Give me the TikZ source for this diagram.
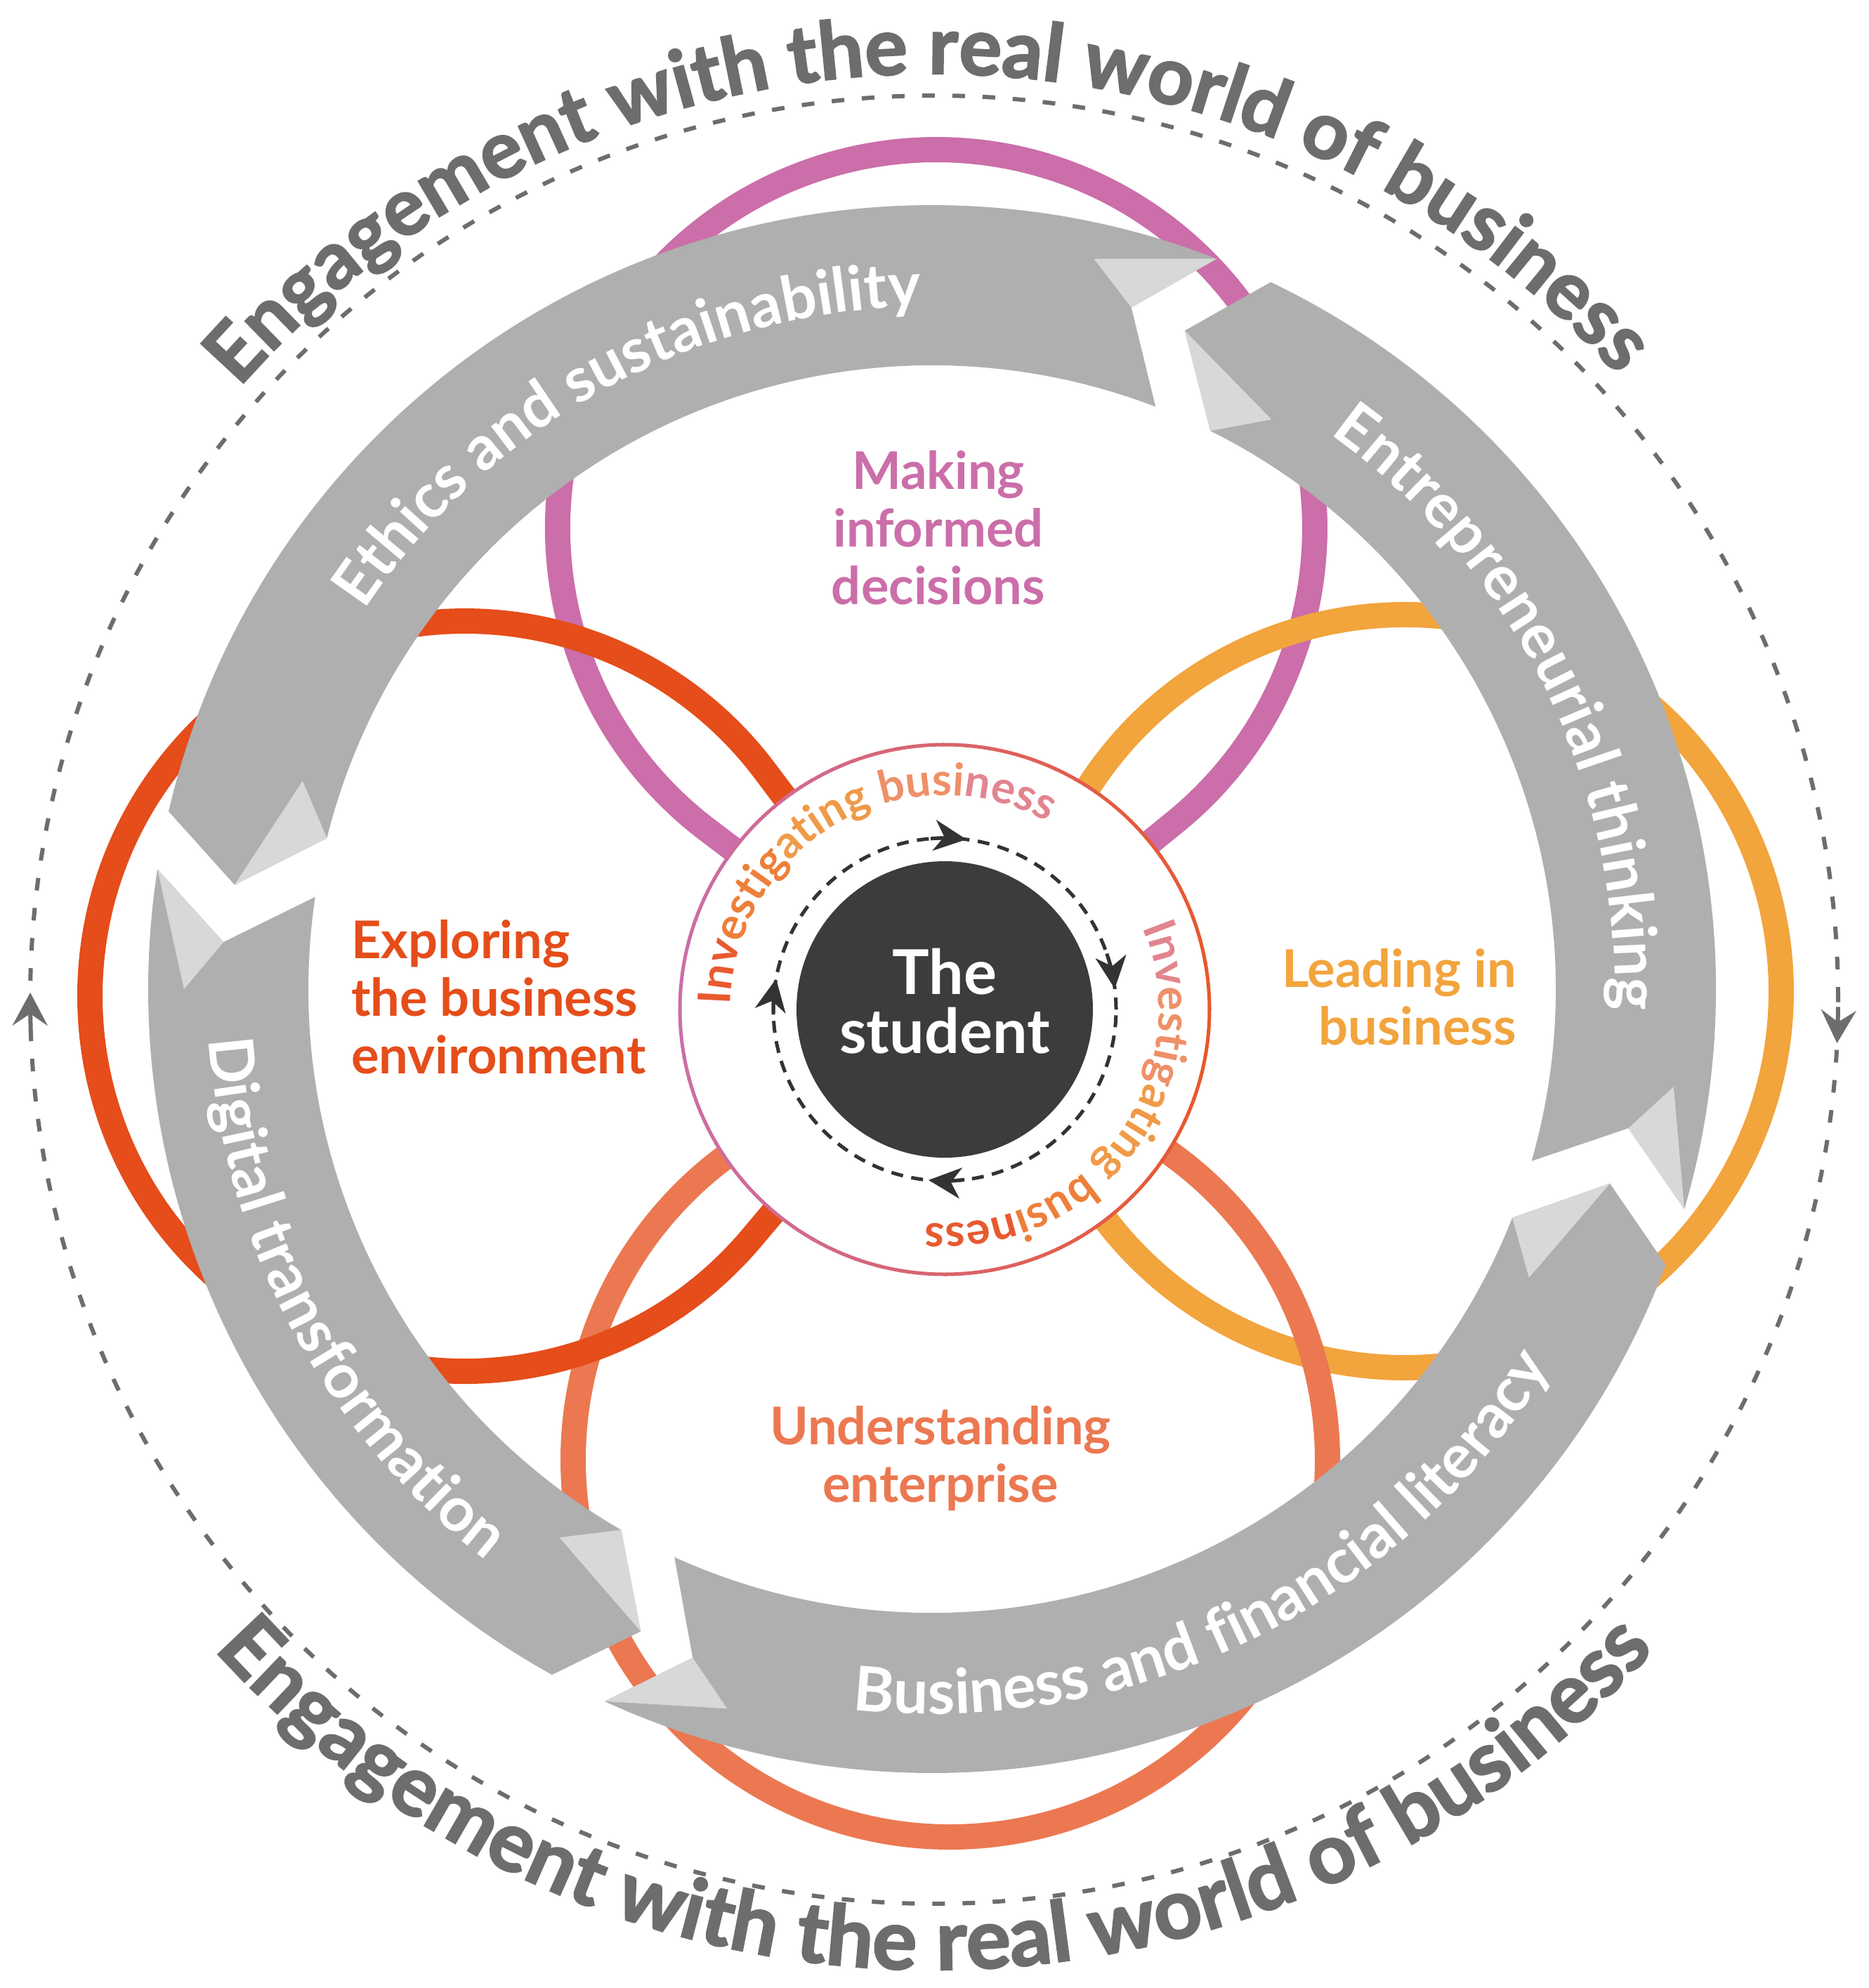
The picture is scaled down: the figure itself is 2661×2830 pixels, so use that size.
\documentclass[tikz,border=0pt]{standalone}
\usepackage{fontspec}
\setmainfont{Lato}
\newfontfamily\heavyfam{Lato}[BoldFeatures={FakeBold=2}]
\usetikzlibrary{decorations.text,arrows.meta}

\definecolor{ribbongray}{HTML}{AFAFAF}
\definecolor{facetgray}{HTML}{D8D8D8}
\definecolor{outergray}{HTML}{6D6D6D}
\definecolor{studentdark}{HTML}{3C3C3C}
\definecolor{innerdark}{HTML}{333333}
\definecolor{loopPink}{HTML}{CB6EA9}
\definecolor{loopRed}{HTML}{E54D1A}
\definecolor{loopOrange}{HTML}{F2A43D}
\definecolor{loopSalmon}{HTML}{EB7851}
\definecolor{ringRed}{HTML}{E8582C}
\definecolor{invA}{HTML}{E85A30}
\definecolor{invB}{HTML}{EE7F3A}
\definecolor{invC}{HTML}{F09A48}
\definecolor{invD}{HTML}{EE9068}
\definecolor{invE}{HTML}{E2858F}

\newcommand\outerfont{\heavyfam\fontsize{114}{114}\selectfont\bfseries}
\newcommand\outerfontlow{\heavyfam\fontsize{119}{119}\selectfont\bfseries}
\newcommand\ribbonfont{\fontsize{88}{88}\selectfont\bfseries\color{white}}
\newcommand\invfmt[1]{\fontsize{64}{64}\selectfont\bfseries\color{#1}}

% one curved ribbon arrow; #1 = angle of its tail joint, #2 = angle of its head joint
\newcommand\grayribbon[2]{%
  \begin{scope}[shift={(O)}]
    \fill[ribbongray] ({#1-4.3}:1116) arc[start angle={#1-4.3}, end angle={#2}, radius=1116]
      -- ({#2+5}:1011) -- ({#2+0.3}:888)
      arc[start angle={#2+0.3}, end angle={#1-5.2}, radius=888]
      -- ({#1+0.3}:1004) -- cycle;
    \fill[facetgray] ({#2}:1116) -- ({#2+5}:1011) -- ({#2+8.8}:1065) -- cycle;
    \fill[facetgray] ({#1+0.3}:1004) -- ({#1-9.5}:944) -- ({#1-5.2}:888) -- cycle;
  \end{scope}}

\begin{document}
\begin{tikzpicture}[x=1pt,y=1pt,
  loopline/.style={line width=36pt, line join=round},
  labeltext/.style={font=\fontsize{74}{82}\selectfont\bfseries, inner sep=0pt},
  outerdash/.style={outergray, line width=6pt},
  innerdash/.style={innerdark, line width=5pt},
  outertip/.style={-{Stealth[length=47pt,width=50pt,inset=17pt]}},
  innertip/.style={-{Stealth[length=46pt,width=44pt,inset=14pt]}}]
\useasboundingbox (0,0) rectangle (2661,-2830);
\fill[white] (0,0) rectangle (2661,-2830);

\coordinate (O) at (1327,-1408);   % centre of the ribbon ring
\coordinate (V) at (1345,-1437);   % centre of the student disc
\coordinate (D) at (1330,-1423);   % centre of the outer dashed cycle

% outer dashed cycle with its two arrow heads
\draw[outerdash, dash pattern=on 18pt off 25pt] (D) circle[radius=1287];
\draw[outerdash, outertip] (D) ++(181.85:1287) arc[start angle=181.85, end angle=179.55, radius=1287];
\draw[outerdash, outertip] (D) ++(-0.46:1287) arc[start angle=-0.46, end angle=-2.76, radius=1287];

% outer captions
\path[decorate, decoration={text along path, text align=center,
  text={|\outerfont\color{outergray}|Engagement with the real world of business}}]
  (D) ++(175.5:1318) arc[start angle=175.5, end angle=5.5, radius=1318];
\path[decorate, decoration={text along path, text align=center,
  text={|\outerfontlow\color{outergray}|Engagement with the real world of business}}]
  (D) ++(185:1381) arc[start angle=185, end angle=355, radius=1381];

% four teardrop loops meeting at the student
\draw[loopline, loopPink] (V) -- ++(142.89:422.9) arc[start angle=232.89, end angle=-50.89, radius=539] -- cycle;
\draw[loopline, loopOrange] (V) -- ++(57.13:377.3) arc[start angle=147.13, end angle=-142.59, radius=536] -- cycle;
\draw[loopline, loopSalmon] (V) -- ++(-32.39:350.1) arc[start angle=57.61, end angle=-236.19, radius=537] -- cycle;
\draw[loopline, loopRed] (V) -- ++(229.81:426.3) arc[start angle=319.81, end angle=36.99, radius=534] -- cycle;

% ribbon arrows running clockwise
\grayribbon{171.2}{68.7}
\grayribbon{68.7}{-16.3}
\grayribbon{-16.3}{-114.7}
\grayribbon{245.3}{171.2}

% ribbon captions
\path[decorate, decoration={text along path, text align=center,
  text={|\ribbonfont|Ethics and sustainability}}]
  (O) ++(188.6:972) arc[start angle=188.6, end angle=48.6, radius=972];
\path[decorate, decoration={text along path, text align=center,
  text={|\ribbonfont|Entrepreneurial thinking}}]
  (O) ++(96.3:972) arc[start angle=96.3, end angle=-43.7, radius=972];
\path[decorate, decoration={text along path, text align=center,
  text={|\ribbonfont|Business and financial literacy}}]
  (O) ++(-133.8:1032) arc[start angle=-133.8, end angle=6.2, radius=1032];
\path[decorate, decoration={text along path, text align=center,
  text={|\ribbonfont|Digital transformation}}]
  (O) ++(138:1032) arc[start angle=138, end angle=278, radius=1032];

% central disc with its shaded rim
\fill[white] (V) circle[radius=377];
\foreach \a in {0,5,...,355} {
  \pgfmathsetmacro\w{50*(1-cos(\a+2.5))}
  \draw[line width=5pt, color=loopPink!\w!ringRed] (V) ++(\a:377) arc[start angle=\a, end angle=\a+5.5, radius=377];
}

% inner dashed cycle
\draw[innerdash, dash pattern=on 17pt off 12pt] (V) circle[radius=244];
\draw[innerdash, innertip] (V) ++(94.7:244) arc[start angle=94.7, end angle=82.7, radius=244];
\draw[innerdash, innertip] (V) ++(19:244) arc[start angle=19, end angle=7, radius=244];
\draw[innerdash, innertip] (V) ++(276.6:244) arc[start angle=276.6, end angle=264.6, radius=244];
\draw[innerdash, innertip] (V) ++(181.7:244) arc[start angle=181.7, end angle=169.7, radius=244];

\fill[studentdark] (V) circle[radius=211];
\node[font=\fontsize{88}{84}\selectfont\bfseries, text=white, align=center, inner sep=0pt] (student) at (1345,-1425) {The\\student};

% ring captions
\path[decorate, decoration={text along path, text align=center,
  text={|\invfmt{invA}|Inv|\invfmt{invB}|estig|\invfmt{invC}|ating |\invfmt{invD}|busi|\invfmt{invE}|ness}}]
  (V) ++(190:305) arc[start angle=190, end angle=50, radius=305];
\path[decorate, decoration={text along path, text align=center,
  text={|\invfmt{invE}|Inv|\invfmt{invD}|estig|\invfmt{invC}|ating |\invfmt{invB}|busi|\invfmt{invA}|ness}}]
  (V) ++(38.7:305) arc[start angle=38.7, end angle=-111.3, radius=305];

% area labels
\node[labeltext, text=loopPink, align=center] (decide) at (1336,-751) {Making\\informed\\decisions};
\node[labeltext, text=loopRed, align=left, anchor=west] (explore) at (500,-1419) {Exploring\\the business\\environment};
\node[labeltext, text=loopOrange, align=right, anchor=east] (lead) at (2159,-1419) {Leading in\\business};
\node[labeltext, text=loopSalmon, align=center] (enterprise) at (1339,-2076) {Understanding\\enterprise};
\end{tikzpicture}
\end{document}
